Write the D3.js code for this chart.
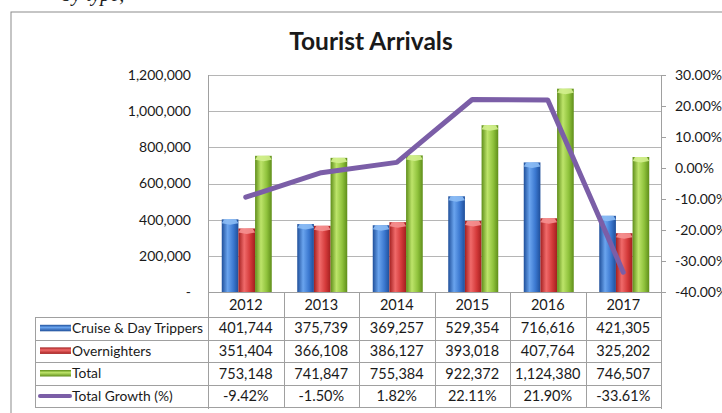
<!DOCTYPE html>
<html><head><meta charset="utf-8">
<script src="https://cdn.jsdelivr.net/npm/d3@7"></script>
<style>
body{margin:0;background:#fff;}
svg{display:block;}
text{font-family:Lato,"Open Sans",sans-serif;fill:#1a1a1a;}
</style></head>
<body>
<svg id="c" width="722" height="413"></svg>
<script>
const years = ["2012","2013","2014","2015","2016","2017"];
const cruise = [401744, 375739, 369257, 529354, 716616, 421305];
const overnighters = [351404, 366108, 386127, 393018, 407764, 325202];
const total = [753148, 741847, 755384, 922372, 1124380, 746507];
const growth = [-9.42, -1.50, 1.82, 22.11, 21.90, -33.61];
const leftTicks = [0, 200000, 400000, 600000, 800000, 1000000, 1200000];
const rightTicks = [-40, -30, -20, -10, 0, 10, 20, 30];
const seriesNames = ["Cruise & Day Trippers", "Overnighters", "Total"];
const lineName = "Total Growth (%)";

const loc = d3.formatLocale({decimal:".", thousands:",", grouping:[3], currency:["",""], minus:"-"});
const fmt = loc.format(",");
const pct = d => loc.format(".2f")(d) + "%";

const svg = d3.select("#c");
const L = 208, R = 661, T = 75, B = 292;
const x = d3.scaleBand().domain(years).range([L, R]).padding(0);
const yL = d3.scaleLinear().domain([0, 1200000]).range([B, T]);
const yR = d3.scaleLinear().domain([-40, 30]).range([B, T]);
const sub = d3.scaleBand().domain([0,1,2]).range([0, 50]);

const pal = [
  {dark:"#1f4f9a", light:"#6aa4ee", mid:"#3b78d0", cap:"#8cbcf5"},
  {dark:"#a31f1f", light:"#f06a6a", mid:"#d43a3a", cap:"#f59090"},
  {dark:"#5f8e1a", light:"#bde46a", mid:"#8fc23c", cap:"#d3f08e"}
];
const defs = svg.append("defs");
pal.forEach((p,i)=>{
  const g = defs.append("linearGradient").attr("id","gh"+i).attr("x1","0").attr("x2","1").attr("y1","0").attr("y2","0");
  g.append("stop").attr("offset","0%").attr("stop-color",p.dark);
  g.append("stop").attr("offset","35%").attr("stop-color",p.light);
  g.append("stop").attr("offset","70%").attr("stop-color",p.mid);
  g.append("stop").attr("offset","100%").attr("stop-color",p.dark);
  const v = defs.append("linearGradient").attr("id","gv"+i).attr("x1","0").attr("x2","0").attr("y1","0").attr("y2","1");
  v.append("stop").attr("offset","0%").attr("stop-color",p.dark);
  v.append("stop").attr("offset","40%").attr("stop-color",p.light);
  v.append("stop").attr("offset","100%").attr("stop-color",p.dark);
});

svg.append("rect").attr("x",11).attr("y",12).attr("width",740).attr("height",420)
  .attr("fill","none").attr("stroke","#8c8c8c").attr("stroke-width",1);

svg.append("text").attr("x",62).attr("y",1)
  .style("font-family","Liberation Serif").attr("font-style","italic").attr("font-size",20).text("by type,");

svg.append("text").attr("x",371).attr("y",50).attr("text-anchor","middle")
  .attr("font-size",24.5).attr("font-weight","bold").text("Tourist Arrivals");

svg.append("g").selectAll("line").data(leftTicks.filter(d=>d>0)).join("line")
  .attr("x1",L).attr("x2",R).attr("y1",d=>Math.round(yL(d))+0.5).attr("y2",d=>Math.round(yL(d))+0.5)
  .attr("stroke","#b5b5b5");

svg.append("g").selectAll("text").data(leftTicks).join("text")
  .attr("x",191).attr("y",d=>yL(d)).attr("dy","0.35em").attr("text-anchor","end")
  .attr("font-size",14).text(d=>d===0?"-":fmt(d));

svg.append("line").attr("x1",R+0.5).attr("x2",R+0.5).attr("y1",T).attr("y2",409).attr("stroke","#a0a0a0");
svg.append("g").selectAll("line").data(rightTicks).join("line")
  .attr("x1",R).attr("x2",R+5).attr("y1",d=>Math.round(yR(d))+0.5).attr("y2",d=>Math.round(yR(d))+0.5)
  .attr("stroke","#a0a0a0");
svg.append("g").selectAll("text").data(rightTicks).join("text")
  .attr("x",675).attr("y",d=>yR(d)).attr("dy","0.35em")
  .attr("font-size",14).text(d=>pct(d));

const seriesVals = [cruise, overnighters, total];
seriesVals.forEach((vals,si)=>{
  const g = svg.append("g");
  const bx = (d,i)=> x(years[i]) + (x.bandwidth()-50)/2 + 1 + sub(si);
  g.selectAll("rect").data(vals).join("rect")
    .attr("x",(d,i)=>bx(d,i)).attr("y",d=>yL(d)).attr("width",sub.bandwidth())
    .attr("height",d=>B-yL(d)).attr("fill","url(#gh"+si+")");
  g.selectAll("path").data(vals).join("path")
    .attr("d",(d,i)=>{
      const x0=bx(d,i), x1=x0+sub.bandwidth(), t=yL(d), xm=(x0+x1)/2;
      return `M${x0},${t+4}L${x0+2.5},${t}L${x1-2.5},${t}L${x1},${t+4}L${xm},${t+5.5}Z`;
    })
    .attr("fill",pal[si].cap).attr("opacity",0.9);
});

svg.append("line").attr("x1",L+0.5).attr("x2",L+0.5).attr("y1",T).attr("y2",409).attr("stroke","#a0a0a0");
svg.append("line").attr("x1",L).attr("x2",R).attr("y1",B+0.5).attr("y2",B+0.5).attr("stroke","#a0a0a0");

svg.append("path").datum(growth)
  .attr("d",d3.line().x((d,i)=>x(years[i])+x.bandwidth()/2).y(d=>yR(d)))
  .attr("fill","none").attr("stroke","#7b5ea7").attr("stroke-width",5)
  .attr("stroke-linejoin","round").attr("stroke-linecap","round");

const rowH = 22.6, hdrBot = 317;
const rowTop = i => hdrBot + i*rowH;
const tbl = svg.append("g");
tbl.selectAll("line.v").data(years.slice(1)).join("line").attr("class","v")
  .attr("x1",d=>Math.round(x(d))+0.5).attr("x2",d=>Math.round(x(d))+0.5)
  .attr("y1",B).attr("y2",rowTop(4)).attr("stroke","#a0a0a0");
tbl.append("line").attr("x1",35.5).attr("x2",35.5).attr("y1",hdrBot).attr("y2",rowTop(4)).attr("stroke","#a0a0a0");
tbl.selectAll("line.h").data(d3.range(5)).join("line").attr("class","h")
  .attr("x1",35).attr("x2",R+1).attr("y1",i=>Math.round(rowTop(i))+0.5).attr("y2",i=>Math.round(rowTop(i))+0.5)
  .attr("stroke","#a0a0a0");
tbl.selectAll("text.yr").data(years).join("text").attr("class","yr")
  .attr("x",d=>x(d)+x.bandwidth()/2).attr("y",(B+hdrBot)/2).attr("dy","0.35em")
  .attr("text-anchor","middle").attr("font-size",14.5).text(d=>d);
const rows = [
  {name:seriesNames[0], vals:cruise.map(fmt), key:0},
  {name:seriesNames[1], vals:overnighters.map(fmt), key:1},
  {name:seriesNames[2], vals:total.map(fmt), key:2},
  {name:lineName, vals:growth.map(pct), key:3}
];
rows.forEach((r,ri)=>{
  const cy = rowTop(ri) + rowH/2;
  if (r.key<3) {
    tbl.append("rect").attr("x",40).attr("y",cy-3.5).attr("width",31).attr("height",6.5)
      .attr("fill","url(#gv"+r.key+")");
  } else {
    tbl.append("line").attr("x1",40).attr("x2",70).attr("y1",cy).attr("y2",cy)
      .attr("stroke","#7b5ea7").attr("stroke-width",4).attr("stroke-linecap","round");
  }
  tbl.append("text").attr("x",72).attr("y",cy).attr("dy","0.35em").attr("font-size",13.8).text(r.name);
  tbl.selectAll(null).data(r.vals).join("text")
    .attr("x",(d,i)=>x(years[i])+x.bandwidth()/2).attr("y",cy).attr("dy","0.35em")
    .attr("text-anchor","middle").attr("font-size",14.5).text(d=>d);
});
</script>
</body></html>
